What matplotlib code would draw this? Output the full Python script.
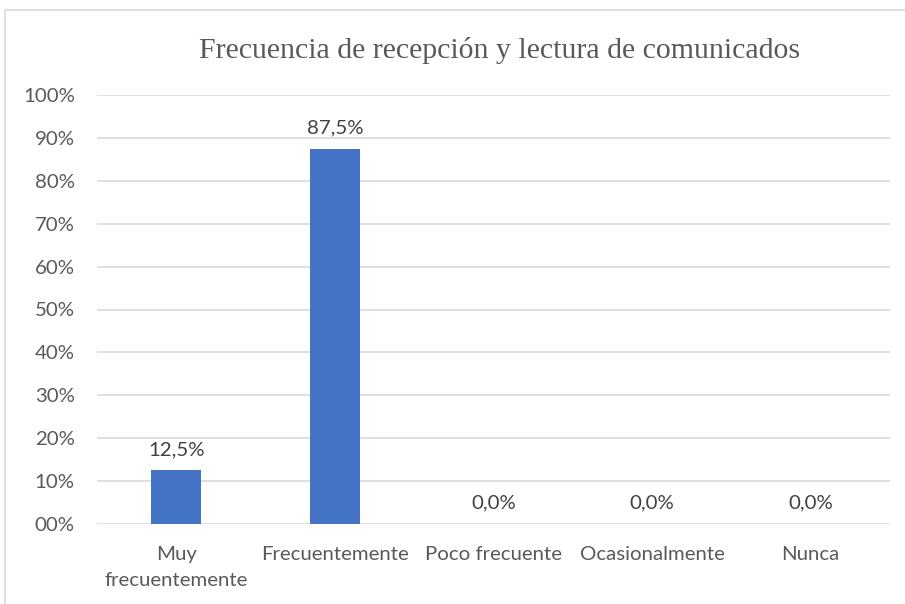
import matplotlib
matplotlib.use("Agg")
import matplotlib.pyplot as plt
from matplotlib.patches import Rectangle

categories = ["Muy\nfrecuentemente", "Frecuentemente", "Poco frecuente", "Ocasionalmente", "Nunca"]
values = [12.5, 87.5, 0.0, 0.0, 0.0]
yticks = [0, 10, 20, 30, 40, 50, 60, 70, 80, 90, 100]
ytick_labels = ["00%", "10%", "20%", "30%", "40%", "50%", "60%", "70%", "80%", "90%", "100%"]
title = "Frecuencia de recepción y lectura de comunicados"

W, H = 905, 604
fig = plt.figure(figsize=(W / 100, H / 100), dpi=100)
fig.patch.set_facecolor("white")

# chart border
fig.patches.append(Rectangle((5 / W, -0.05), 1.0, 1 - 10 / H + 0.05, transform=fig.transFigure,
                             fill=False, edgecolor="#D9D9D9", linewidth=1.2))

FONT = ["Lato", "DejaVu Sans"]
ax = fig.add_axes([97 / W, 1 - 524 / H, (890 - 97) / W, (524 - 95) / H])
x = range(len(categories))
ax.bar(x, values, width=0.315, color="#4472C4", zorder=3)
ax.set_xlim(-0.5, len(categories) - 0.5)
ax.set_ylim(0, 100)
ax.set_yticks(yticks)
ax.set_yticklabels(ytick_labels)
ax.set_xticks(list(x))
ax.set_xticklabels(categories, linespacing=1.6)
for s in ax.spines.values():
    s.set_visible(False)
ax.grid(axis="y", color="#D9D9D9", linewidth=1.2, zorder=0)
ax.tick_params(length=0, labelcolor="#595959")
ax.tick_params(axis="y", pad=16)
ax.tick_params(axis="x", pad=16)
for lab in ax.get_xticklabels() + ax.get_yticklabels():
    lab.set_family(FONT)
    lab.set_fontsize(14.7)

for xi, v in zip(x, values):
    ax.annotate(f"{v:.1f}%".replace(".", ","), (xi, v), xytext=(0, 9), textcoords="offset points",
                ha="center", va="bottom", fontsize=14.7, color="#404040", family=FONT)

fig.text(500 / W, 1 - 50 / H, title, ha="center", va="center", fontsize=21.5,
         color="#595959", family=["Liberation Serif", "DejaVu Serif"])

fig.savefig("out.png", dpi=100)
